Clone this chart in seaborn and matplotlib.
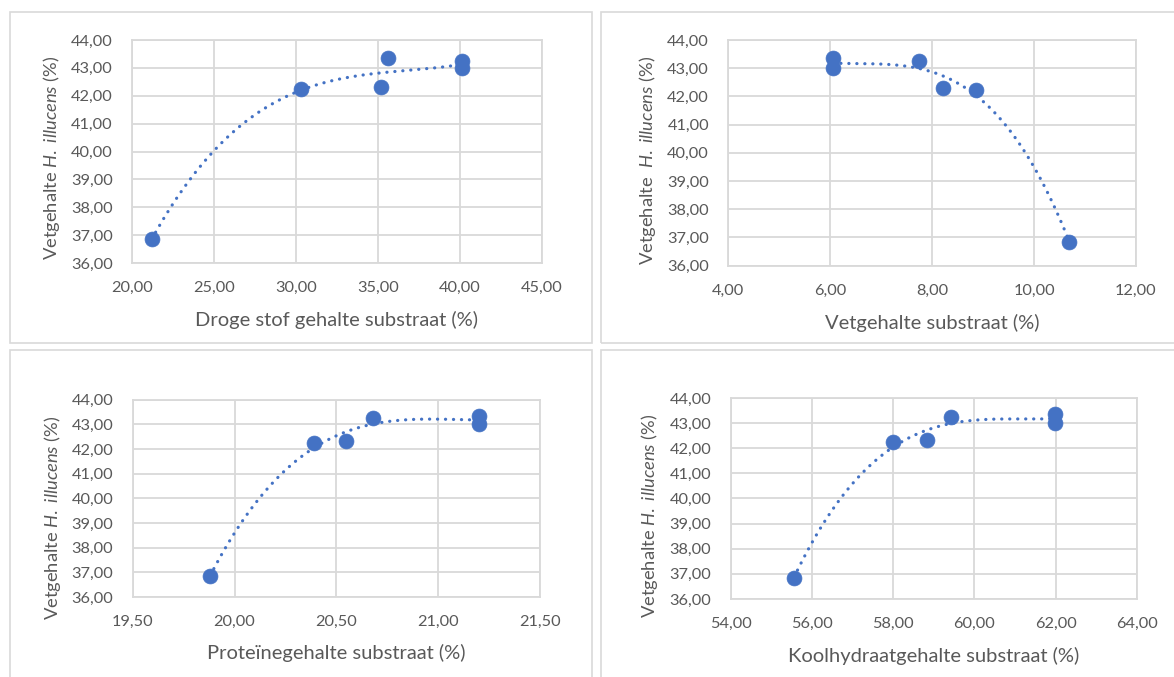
import numpy as np
import pandas as pd
import matplotlib
matplotlib.use("Agg")
import matplotlib.pyplot as plt
from matplotlib.patches import Rectangle
from matplotlib.ticker import FixedLocator, FuncFormatter
import seaborn as sns

# Fat content of the larvae (%) for the six substrates
fat_larvae = [36.85, 42.23, 42.31, 43.35, 43.24, 43.00]

# Substrate composition (%), same substrate order
dry_matter = [21.20, 30.33, 35.23, 35.61, 40.16, 40.16]
fat_substrate = [10.69, 8.85, 8.22, 6.05, 7.75, 6.05]
protein_substrate = [19.88, 20.39, 20.55, 21.20, 20.68, 21.20]
carb_substrate = [55.56, 58.00, 58.83, 61.97, 59.43, 61.97]

x_titles = [
    "Droge stof gehalte substraat (%)",
    "Vetgehalte substraat (%)",
    "Proteïnegehalte substraat (%)",
    "Koolhydraatgehalte substraat (%)",
]
y_titles = [
    r"Vetgehalte $\mathit{H.\ illucens}$ (%)",
    r"Vetgehalte  $\mathit{H.\ illucens}$ (%)",
    r"Vetgehalte $\mathit{H.\ illucens}$ (%)",
    r"Vetgehalte $\mathit{H.\ illucens}$ (%)",
]

x_ticks = [
    [20, 25, 30, 35, 40, 45],
    [4, 6, 8, 10, 12],
    [19.5, 20.0, 20.5, 21.0, 21.5],
    [54, 56, 58, 60, 62, 64],
]
y_ticks = [36, 37, 38, 39, 40, 41, 42, 43, 44]

# polynomial order of the trendline in each panel
trend_order = [3, 3, 3, 3]

BLUE = "#4472C4"
GRID = "#D9D9D9"
TEXT = "#595959"

sns.set_theme(style="white")
plt.rcParams["font.family"] = ["Lato", "DejaVu Sans"]
plt.rcParams["mathtext.fontset"] = "custom"
plt.rcParams["mathtext.rm"] = "Lato"
plt.rcParams["mathtext.it"] = "Lato:italic"

W, H = 1174, 677
fig = plt.figure(figsize=(W / 100, H / 100), dpi=100)
fig.patch.set_facecolor("white")

# panel frames: (left, top, right, bottom) in pixels
frames = [(10, 12, 592, 343), (601, 12, 1183, 343),
          (10, 350, 592, 682), (601, 350, 1183, 682)]
# plot areas: (left, top, right, bottom) in pixels
plot_areas = [(132, 40, 541.5, 263), (728.4, 40, 1136, 265.7),
              (132.8, 399.7, 539.6, 597), (730.6, 398, 1137, 599)]
# axis title centres (x of y-title, y of x-title) in pixels
ytitle_pos = [(52, 158), (648, 160), (52.5, 518), (650, 516)]
xtitle_y = [320, 322.7, 653, 656]

for (l, t, r, b) in frames:
    fig.add_artist(Rectangle((l / W, 1 - b / H), (r - l) / W, (b - t) / H,
                             transform=fig.transFigure, fill=False,
                             edgecolor=GRID, linewidth=1.2))

xs_all = [dry_matter, fat_substrate, protein_substrate, carb_substrate]


def comma_fmt(v, _):
    return f"{v:.2f}".replace(".", ",")


for i, xs in enumerate(xs_all):
    l, t, r, b = plot_areas[i]
    ax = fig.add_axes([l / W, 1 - b / H, (r - l) / W, (b - t) / H])
    df = pd.DataFrame({"x": xs, "y": fat_larvae})

    sns.scatterplot(data=df, x="x", y="y", ax=ax, color=BLUE, s=115,
                    edgecolor=BLUE, linewidth=0.5, zorder=3, legend=False)

    coef = np.polyfit(df["x"], df["y"], trend_order[i])
    grid = np.linspace(min(xs), max(xs), 300)
    trend = pd.DataFrame({"x": grid, "y": np.polyval(coef, grid)})
    sns.lineplot(data=trend, x="x", y="y", ax=ax, color=BLUE, linewidth=2.3,
                 linestyle=(0, (0.05, 2.45)), dash_capstyle="round", zorder=4)

    ax.set_xlim(x_ticks[i][0], x_ticks[i][-1])
    ax.set_ylim(y_ticks[0], y_ticks[-1])
    ax.xaxis.set_major_locator(FixedLocator(x_ticks[i]))
    ax.yaxis.set_major_locator(FixedLocator(y_ticks))
    ax.xaxis.set_major_formatter(FuncFormatter(comma_fmt))
    ax.yaxis.set_major_formatter(FuncFormatter(comma_fmt))
    ax.grid(True, color=GRID, linewidth=1.3)
    ax.set_axisbelow(True)
    for sp in ax.spines.values():
        sp.set_color(GRID)
        sp.set_linewidth(1.3)
    ax.tick_params(length=0, labelsize=11.8, labelcolor=TEXT)
    ax.tick_params(axis="y", pad=14)
    ax.tick_params(axis="x", pad=13)

    ax.set_xlabel(x_titles[i], fontsize=14.5, color=TEXT)
    ax.xaxis.label.set_va("center")
    ax.xaxis.set_label_coords(0.5, (b - xtitle_y[i]) / (b - t))
    ax.set_ylabel(y_titles[i], fontsize=13.2, color=TEXT)
    ax.yaxis.label.set_va("center")
    yx, yy = ytitle_pos[i]
    ax.yaxis.set_label_coords((yx - l) / (r - l), (b - yy) / (b - t))

fig.savefig("out.png", dpi=100, facecolor="white")
